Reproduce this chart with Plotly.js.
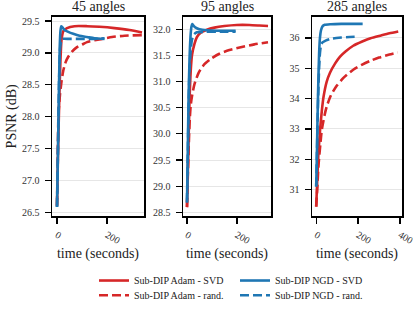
<!DOCTYPE html>
<html>
<head>
<meta charset="utf-8">
<script src="https://cdn.plot.ly/plotly-3.0.1.min.js"></script>
<style>html,body{margin:0;padding:0;background:#fff;}#chart{width:419px;height:310px;}</style>
</head>
<body>
<div id="chart"></div>
<script>
// ---------- data ----------
var panelTitles = ["45 angles", "95 angles", "285 angles"];
var seriesNames = ["Sub-DIP Adam - SVD", "Sub-DIP Adam - rand.", "Sub-DIP NGD - SVD", "Sub-DIP NGD - rand."];

// 45 angles
var t45AdamSvd = [0, 5, 10, 14, 18, 25, 40, 70, 120, 170, 230, 290, 340];
var y45AdamSvd = [26.6, 27.6, 28.4, 28.9, 29.2, 29.34, 29.39, 29.42, 29.42, 29.41, 29.39, 29.36, 29.32];
var t45AdamRand = [0, 3, 6, 12, 18, 25, 35, 45, 60, 80, 100, 120, 150, 180, 220, 270, 340];
var y45AdamRand = [26.6, 27.4, 28.05, 28.35, 28.55, 28.72, 28.86, 28.94, 29.02, 29.09, 29.13, 29.17, 29.2, 29.22, 29.25, 29.27, 29.28];
var t45NgdSvd = [0, 4, 8, 11, 14, 17, 22, 30, 45, 65, 90, 120, 150, 190];
var y45NgdSvd = [26.58, 27.5, 28.5, 29.1, 29.35, 29.42, 29.4, 29.36, 29.33, 29.3, 29.27, 29.25, 29.23, 29.22];
var t45NgdRand = [0, 4, 8, 12, 16, 22, 50, 100, 150, 190];
var y45NgdRand = [26.58, 27.5, 28.5, 29.05, 29.18, 29.22, 29.22, 29.22, 29.22, 29.23];

// 95 angles
var t95AdamSvd = [0, 5, 10, 15, 20, 30, 40, 55, 80, 110, 150, 200, 250, 290, 325];
var y95AdamSvd = [28.6, 29.6, 30.6, 31.2, 31.5, 31.72, 31.85, 31.93, 31.99, 32.03, 32.06, 32.08, 32.08, 32.07, 32.06];
var t95AdamRand = [0, 4, 8, 11, 15, 20, 30, 47, 70, 95, 130, 170, 220, 270, 325];
var y95AdamRand = [28.6, 29.3, 29.9, 30.27, 30.55, 30.72, 30.95, 31.17, 31.33, 31.43, 31.53, 31.6, 31.66, 31.71, 31.75];
var t95NgdSvd = [0, 3, 6, 10, 14, 18, 21, 26, 35, 50, 80, 120, 160, 195];
var y95NgdSvd = [28.69, 29.6, 30.6, 31.4, 31.85, 32.05, 32.1, 32.07, 32.03, 32.0, 31.98, 31.97, 31.97, 31.97];
var t95NgdRand = [0, 3, 6, 10, 15, 20, 28, 40, 70, 120, 160, 195];
var y95NgdRand = [28.69, 29.5, 30.4, 31.2, 31.6, 31.8, 31.9, 31.94, 31.95, 31.95, 31.95, 31.95];

// 285 angles
var t285AdamSvd = [0, 5, 10, 19, 27, 35, 50, 66, 90, 114, 140, 177, 220, 260, 310, 350, 392];
var y285AdamSvd = [30.44, 31.3, 32.1, 33.0, 33.6, 34.05, 34.55, 34.85, 35.15, 35.38, 35.55, 35.74, 35.88, 35.99, 36.08, 36.15, 36.21];
var t285AdamRand = [0, 5, 11, 20, 27, 40, 51, 70, 98, 130, 177, 220, 257, 300, 350, 390];
var y285AdamRand = [30.44, 31.0, 31.8, 32.5, 32.98, 33.45, 33.75, 34.1, 34.42, 34.68, 34.95, 35.12, 35.24, 35.35, 35.45, 35.52];
var t285NgdSvd = [0, 3, 6, 10, 14, 18, 23, 30, 41, 70, 120, 170, 222];
var y285NgdSvd = [31.1, 32.0, 33.2, 34.5, 35.5, 36.0, 36.25, 36.38, 36.43, 36.45, 36.46, 36.46, 36.46];
var t285NgdRand = [0, 3, 6, 10, 14, 18, 23, 30, 45, 72, 120, 160, 200];
var y285NgdRand = [31.1, 32.0, 33.0, 34.2, 35.0, 35.5, 35.75, 35.85, 35.91, 35.97, 36.01, 36.03, 36.04];

// tick labels
var yTicks45 = [26.5, 27.0, 27.5, 28.0, 28.5, 29.0, 29.5];
var yTickText45 = ["26.5", "27.0", "27.5", "28.0", "28.5", "29.0", "29.5"];
var yTicks95 = [28.5, 29.0, 29.5, 30.0, 30.5, 31.0, 31.5, 32.0];
var yTickText95 = ["28.5", "29.0", "29.5", "30.0", "30.5", "31.0", "31.5", "32.0"];
var yTicks285 = [31, 32, 33, 34, 35, 36];
var yTickText285 = ["31", "32", "33", "34", "35", "36"];
var xTicksA = [0, 200];
var xTicksB = [0, 200, 400];

// ---------- styling ----------
var RED = "#d62728", BLUE = "#1f77b4";
var FONT = "Liberation Serif";
var LW = 2.6;

var panels = [
  {sets: [[t45AdamSvd, y45AdamSvd], [t45AdamRand, y45AdamRand], [t45NgdSvd, y45NgdSvd], [t45NgdRand, y45NgdRand]]},
  {sets: [[t95AdamSvd, y95AdamSvd], [t95AdamRand, y95AdamRand], [t95NgdSvd, y95NgdSvd], [t95NgdRand, y95NgdRand]]},
  {sets: [[t285AdamSvd, y285AdamSvd], [t285AdamRand, y285AdamRand], [t285NgdSvd, y285NgdSvd], [t285NgdRand, y285NgdRand]]}
];
var colors = [RED, RED, BLUE, BLUE];
var legendIds = ["legend", "legend3", "legend2", "legend4"];
var drawOrder = [1, 0, 3, 2];

var traces = [];
panels.forEach(function (p, pi) {
  var xa = pi === 0 ? "x" : "x" + (pi + 1);
  var ya = pi === 0 ? "y" : "y" + (pi + 1);
  drawOrder.forEach(function (si) {
    traces.push({
      x: p.sets[si][0], y: p.sets[si][1],
      xaxis: xa, yaxis: ya, type: "scatter", mode: "lines",
      name: seriesNames[si],
      legend: legendIds[si],
      showlegend: pi === 0,
      line: {color: colors[si], dash: si % 2 === 1 ? "9px,4px" : "solid", width: LW, shape: "spline", smoothing: 0.6}
    });
  });
});

var W = 419, H = 310;
function px(x) { return x / W; }
function py(y) { return 1 - y / H; }
var yTop = 17, yBot = 221;
var xd = [[52, 144], [183, 271], [312, 402]];

function xAxis(i, ticks, range) {
  return {
    domain: [px(xd[i][0]), px(xd[i][1])], anchor: i === 0 ? "y" : "y" + (i + 1),
    range: range, tickvals: ticks, ticktext: ticks.map(String), tickangle: 30,
    ticks: "outside", ticklen: 6, tickwidth: 1.3, tickcolor: "#000",
    ticklabelstandoff: 2,
    showline: true, linecolor: "#000", linewidth: 1.5, mirror: true,
    showgrid: false, zeroline: false,
    tickfont: {family: FONT, size: 10, color: "#333"},
    title: {text: "time (seconds)", font: {family: FONT, size: 14, color: "#222"}, standoff: 1}
  };
}
function yAxis(i, ticks, text, range) {
  var a = {
    domain: [py(yBot), py(yTop)], anchor: i === 0 ? "x" : "x" + (i + 1),
    range: range, tickvals: ticks, ticktext: text,
    ticks: "outside", ticklen: 6, tickwidth: 1.3, tickcolor: "#000",
    ticklabelstandoff: 3,
    showline: true, linecolor: "#000", linewidth: 1.5, mirror: true,
    showgrid: true, gridcolor: "#e6e6e6", gridwidth: 1, zeroline: false,
    tickfont: {family: FONT, size: 10, color: "#333"}
  };
  if (i === 0) a.title = {text: "PSNR (dB)", font: {family: FONT, size: 14, color: "#222"}, standoff: 2};
  return a;
}
function leg(x, y) {
  return {x: px(x), y: py(y), xanchor: "left", yanchor: "middle", orientation: "v",
          font: {family: FONT, size: 10, color: "#222"}, itemwidth: 30,
          bgcolor: "rgba(0,0,0,0)", borderwidth: 0};
}

var layout = {
  width: W, height: H,
  margin: {l: 0, r: 0, t: 0, b: 0},
  paper_bgcolor: "#fff", plot_bgcolor: "#fff",
  xaxis: xAxis(0, xTicksA, [-20, 348]),
  xaxis2: xAxis(1, xTicksA, [-16, 337]),
  xaxis3: xAxis(2, xTicksB, [-20, 410]),
  yaxis: yAxis(0, yTicks45, yTickText45, [26.44, 29.57]),
  yaxis2: yAxis(1, yTicks95, yTickText95, [28.43, 32.24]),
  yaxis3: yAxis(2, yTicks285, yTickText285, [30.13, 36.70]),
  legend: leg(94, 287),
  legend3: leg(94, 302),
  legend2: leg(235, 287),
  legend4: leg(235, 302),
  annotations: panelTitles.map(function (t, i) {
    return {text: t, xref: "paper", yref: "paper", x: px((xd[i][0] + xd[i][1]) / 2), y: py(7),
            xanchor: "center", yanchor: "middle", showarrow: false,
            font: {family: FONT, size: 14, color: "#222"}};
  })
};

Plotly.newPlot("chart", traces, layout, {staticPlot: true, displayModeBar: false});
</script>
</body>
</html>
